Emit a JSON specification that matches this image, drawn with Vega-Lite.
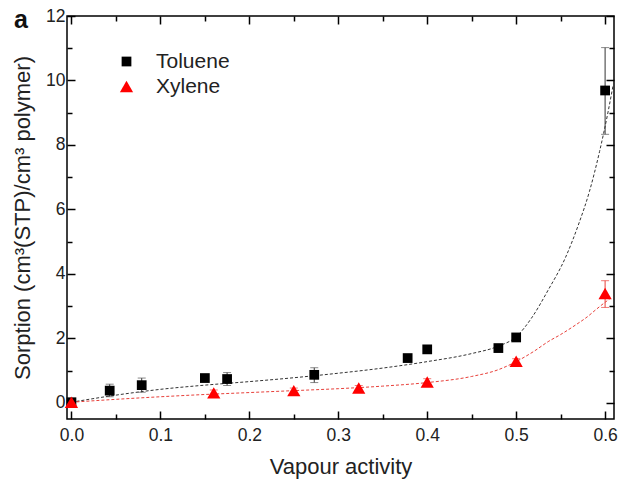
{
  "$schema": "https://vega.github.io/schema/vega-lite/v6.json",
  "autosize": "none",
  "padding": {"left": 67, "top": 16, "right": 8, "bottom": 65},
  "width": 547,
  "height": 403,
  "background": "white",
  "title": {"text": "a", "anchor": "start", "frame": "group", "font": "Liberation Sans", "fontSize": 25, "fontWeight": "bold", "color": "#111", "baseline": "alphabetic", "offset": -15, "dx": -53, "dy": 31},
  "config": {
    "view": {"stroke": "black", "strokeWidth": 1.5},
    "axis": {"domain": false, "grid": false, "tickColor": "black", "tickWidth": 1.5, "labelFont": "Liberation Sans", "labelFontSize": 17.5, "labelColor": "#222", "titleFont": "Liberation Sans", "titleFontSize": 22, "titleFontWeight": "normal", "titleColor": "#222"},
    "legend": {"labelFont": "Liberation Sans", "labelFontSize": 21, "labelColor": "#222"}
  },
  "datasets": {
    "pts": [
      {"series": "Toluene", "x": 0, "y": 0.02, "lo": -0.03, "hi": 0.07},
      {"series": "Toluene", "x": 0.043, "y": 0.38, "lo": 0.19, "hi": 0.58},
      {"series": "Toluene", "x": 0.079, "y": 0.55, "lo": 0.33, "hi": 0.77},
      {"series": "Toluene", "x": 0.15, "y": 0.77, "lo": 0.69, "hi": 0.85},
      {"series": "Toluene", "x": 0.175, "y": 0.74, "lo": 0.54, "hi": 0.94},
      {"series": "Toluene", "x": 0.273, "y": 0.87, "lo": 0.63, "hi": 1.09},
      {"series": "Toluene", "x": 0.378, "y": 1.39, "lo": 1.31, "hi": 1.47},
      {"series": "Toluene", "x": 0.4, "y": 1.66, "lo": 1.58, "hi": 1.74},
      {"series": "Toluene", "x": 0.48, "y": 1.7, "lo": 1.62, "hi": 1.78},
      {"series": "Toluene", "x": 0.5, "y": 2.03, "lo": 1.95, "hi": 2.11},
      {"series": "Toluene", "x": 0.6, "y": 9.69, "lo": 8.33, "hi": 11.02},
      {"series": "Xylene", "x": 0, "y": 0.02, "lo": -0.03, "hi": 0.07},
      {"series": "Xylene", "x": 0.16, "y": 0.31, "lo": 0.2, "hi": 0.4},
      {"series": "Xylene", "x": 0.25, "y": 0.38, "lo": 0.3, "hi": 0.46},
      {"series": "Xylene", "x": 0.323, "y": 0.46, "lo": 0.38, "hi": 0.54},
      {"series": "Xylene", "x": 0.4, "y": 0.65, "lo": 0.55, "hi": 0.75},
      {"series": "Xylene", "x": 0.5, "y": 1.29, "lo": 1.21, "hi": 1.37},
      {"series": "Xylene", "x": 0.6, "y": 3.39, "lo": 2.96, "hi": 3.79}
    ],
    "fit": [
      {"series": "Toluene", "x": 0, "y": 0.02},
      {"series": "Toluene", "x": 0.05, "y": 0.24},
      {"series": "Toluene", "x": 0.1, "y": 0.42},
      {"series": "Toluene", "x": 0.15, "y": 0.55},
      {"series": "Toluene", "x": 0.2, "y": 0.66},
      {"series": "Toluene", "x": 0.25, "y": 0.78},
      {"series": "Toluene", "x": 0.3, "y": 0.92},
      {"series": "Toluene", "x": 0.35, "y": 1.08},
      {"series": "Toluene", "x": 0.4, "y": 1.28},
      {"series": "Toluene", "x": 0.45, "y": 1.53},
      {"series": "Toluene", "x": 0.48, "y": 1.76},
      {"series": "Toluene", "x": 0.5, "y": 2.05},
      {"series": "Toluene", "x": 0.517, "y": 2.62},
      {"series": "Toluene", "x": 0.536, "y": 3.5},
      {"series": "Toluene", "x": 0.5553, "y": 4.5},
      {"series": "Toluene", "x": 0.5707, "y": 5.58},
      {"series": "Toluene", "x": 0.5823, "y": 6.55},
      {"series": "Toluene", "x": 0.5938, "y": 7.8},
      {"series": "Toluene", "x": 0.6035, "y": 9.05},
      {"series": "Toluene", "x": 0.609, "y": 9.85},
      {"series": "Xylene", "x": 0, "y": 0.02},
      {"series": "Xylene", "x": 0.05, "y": 0.11},
      {"series": "Xylene", "x": 0.1, "y": 0.19},
      {"series": "Xylene", "x": 0.15, "y": 0.26},
      {"series": "Xylene", "x": 0.2, "y": 0.32},
      {"series": "Xylene", "x": 0.25, "y": 0.38},
      {"series": "Xylene", "x": 0.3, "y": 0.44},
      {"series": "Xylene", "x": 0.35, "y": 0.52},
      {"series": "Xylene", "x": 0.4, "y": 0.63},
      {"series": "Xylene", "x": 0.45, "y": 0.82},
      {"series": "Xylene", "x": 0.48, "y": 1.03},
      {"series": "Xylene", "x": 0.5, "y": 1.28},
      {"series": "Xylene", "x": 0.52, "y": 1.6},
      {"series": "Xylene", "x": 0.536, "y": 1.9},
      {"series": "Xylene", "x": 0.55, "y": 2.12},
      {"series": "Xylene", "x": 0.567, "y": 2.42},
      {"series": "Xylene", "x": 0.58, "y": 2.67},
      {"series": "Xylene", "x": 0.59, "y": 2.9},
      {"series": "Xylene", "x": 0.6, "y": 3.12},
      {"series": "Xylene", "x": 0.605, "y": 3.22}
    ]
  },
  "data": {"name": "pts"},
  "resolve": {"axis": {"x": "independent", "y": "independent"}},
  "layer": [
    {
      "data": {"name": "fit"},
      "mark": {"type": "line", "strokeDash": [3, 2], "strokeWidth": 1, "interpolate": "monotone"},
      "encoding": {
        "x": {"field": "x", "type": "quantitative", "scale": {"domain": [-0.005, 0.61], "nice": false, "zero": false},
          "axis": {"orient": "bottom", "title": "Vapour activity", "values": [0, 0.05, 0.1, 0.15, 0.2, 0.25, 0.3, 0.35, 0.4, 0.45, 0.5, 0.55, 0.6],
            "labelExpr": "abs(datum.value*10 - round(datum.value*10)) < 0.001 ? format(datum.value, '.1f') : ''",
            "tickSize": {"condition": {"test": "abs(datum.value*10 - round(datum.value*10)) < 0.001", "value": -8}, "value": -5},
            "labelPadding": 15, "titlePadding": 10, "labelFlush": false, "labelOverlap": false}},
        "y": {"field": "y", "type": "quantitative", "scale": {"domain": [-0.5, 12], "nice": false, "zero": false},
          "axis": {"orient": "left", "title": "Sorption (cm³(STP)/cm³ polymer)", "values": [0, 1, 2, 3, 4, 5, 6, 7, 8, 9, 10, 11, 12],
            "labelExpr": "datum.value % 2 == 0 ? datum.value : ''",
            "tickSize": {"condition": {"test": "datum.value % 2 == 0", "value": -8}, "value": -5},
            "labelPadding": 10, "titlePadding": 11, "labelFlush": false, "labelOverlap": false}},
        "stroke": {"field": "series", "type": "nominal", "scale": {"domain": ["Xylene", "Toluene"], "range": ["#e8403a", "#333333"]}, "legend": null},
        "detail": {"field": "series"}
      }
    },
    {
      "mark": {"type": "rule", "strokeWidth": 1},
      "encoding": {
        "x": {"field": "x", "type": "quantitative", "axis": null},
        "y": {"field": "lo", "type": "quantitative", "axis": null},
        "y2": {"field": "hi"},
        "stroke": {"field": "series", "type": "nominal", "scale": {"domain": ["Xylene", "Toluene"], "range": ["#e8403a", "#333333"]}, "legend": null}
      }
    },
    {
      "mark": {"type": "tick", "orient": "horizontal", "thickness": 1, "size": 8},
      "encoding": {
        "x": {"field": "x", "type": "quantitative", "axis": null},
        "y": {"field": "hi", "type": "quantitative", "axis": null},
        "fill": {"field": "series", "type": "nominal", "scale": {"domain": ["Xylene", "Toluene"], "range": ["#e8403a", "#555555"]}, "legend": null}
      }
    },
    {
      "mark": {"type": "tick", "orient": "horizontal", "thickness": 1, "size": 8},
      "encoding": {
        "x": {"field": "x", "type": "quantitative", "axis": null},
        "y": {"field": "lo", "type": "quantitative", "axis": null},
        "fill": {"field": "series", "type": "nominal", "scale": {"domain": ["Xylene", "Toluene"], "range": ["#e8403a", "#555555"]}, "legend": null}
      }
    },
    {
      "mark": {"type": "point", "filled": true, "opacity": 1},
      "encoding": {
        "x": {"field": "x", "type": "quantitative", "axis": null},
        "y": {"field": "y", "type": "quantitative", "axis": null},
        "color": {"field": "series", "type": "nominal", "scale": {"domain": ["Toluene", "Xylene"], "range": ["#000000", "#ff0000"]},
          "legend": {"title": null, "orient": "none", "legendX": 49, "legendY": 35, "labelOffset": 19, "rowPadding": 3, "symbolStrokeWidth": 0, "padding": 0}},
        "shape": {"field": "series", "type": "nominal", "scale": {"domain": ["Toluene", "Xylene"], "range": ["square", "triangle-up"]},
          "legend": {"title": null, "orient": "none", "legendX": 49, "legendY": 35, "labelOffset": 19, "rowPadding": 3, "symbolStrokeWidth": 0, "padding": 0}},
        "size": {"field": "series", "type": "nominal", "scale": {"domain": ["Toluene", "Xylene"], "range": [95, 175]},
          "legend": {"title": null, "orient": "none", "legendX": 49, "legendY": 35, "labelOffset": 19, "rowPadding": 3, "symbolStrokeWidth": 0, "padding": 0}}
      }
    },
    {
      "mark": {"type": "point", "opacity": 0},
      "encoding": {
        "x": {"field": "x", "type": "quantitative",
          "axis": {"orient": "top", "title": null, "labels": false, "values": [0, 0.05, 0.1, 0.15, 0.2, 0.25, 0.3, 0.35, 0.4, 0.45, 0.5, 0.55, 0.6],
            "tickSize": {"condition": {"test": "abs(datum.value*10 - round(datum.value*10)) < 0.001", "value": -8}, "value": -5}}},
        "y": {"field": "y", "type": "quantitative",
          "axis": {"orient": "right", "title": null, "labels": false, "values": [0, 1, 2, 3, 4, 5, 6, 7, 8, 9, 10, 11, 12],
            "tickSize": {"condition": {"test": "datum.value % 2 == 0", "value": -8}, "value": -5}}}
      }
    }
  ]
}
